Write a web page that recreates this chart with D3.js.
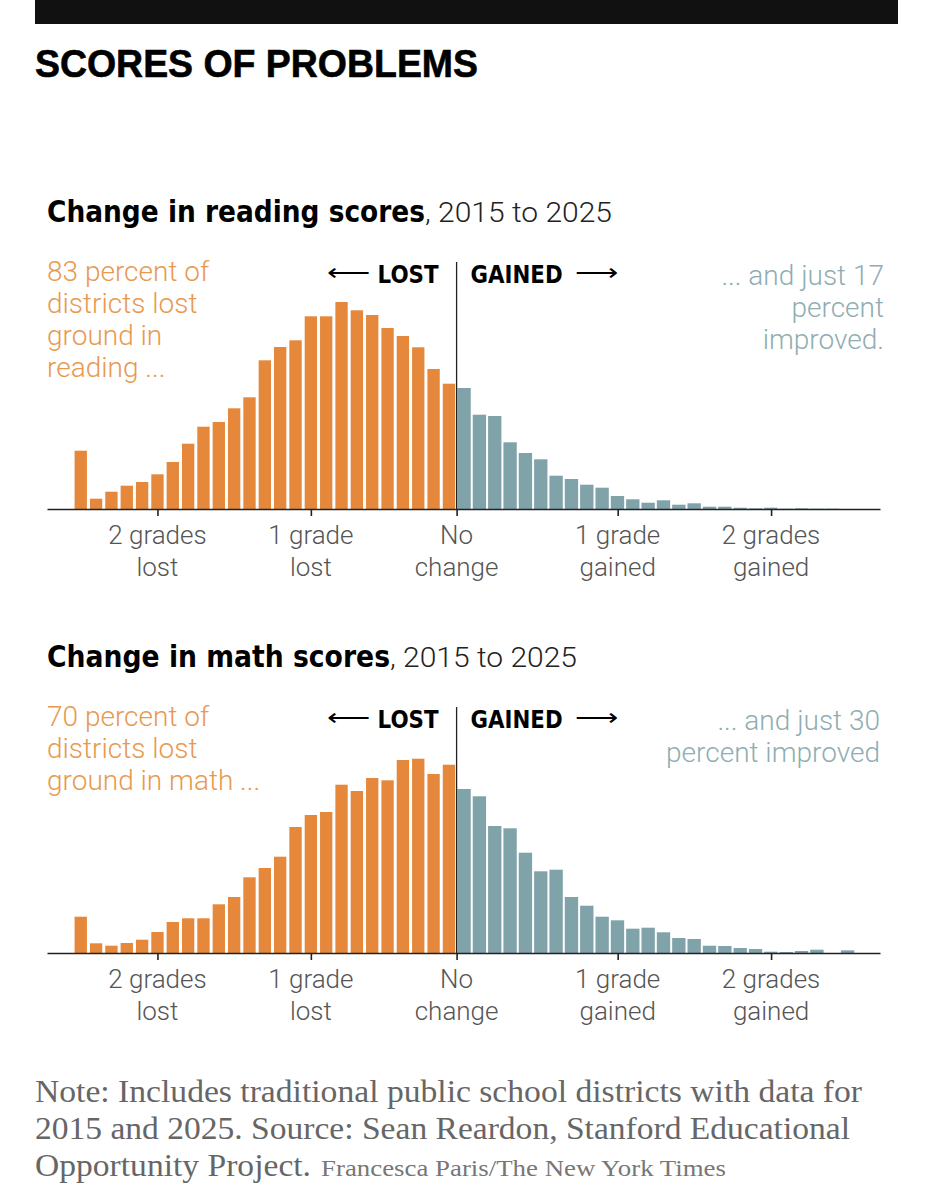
<!DOCTYPE html>
<html><head><meta charset="utf-8">
<script src="https://cdn.jsdelivr.net/npm/d3@7"></script>
<style>
body{margin:0;background:#fff;}
svg{display:block;}
</style></head>
<body>
<script>
// ---- data (heights, arbitrary units) ----
const binWidth = 0.1; // grade units per bin
const readingLost = [58.3,10.3,17.3,23.3,27,34.7,47,65.3,82.3,87,100.7,111.7,148.7,162,168.7,192.7,192.7,207,198.7,194,181,173,161.7,140,125.3];
const readingGained = [121,94.3,93,66.7,56,49.7,33.3,30,24.3,21.3,13,9.7,6.3,8.7,4.3,5.7,2.3,2.3,1.3,0.7,1.3,0.3,0.7,0.3,0.3,0,0];
const mathLost = [36.3,9.7,7.3,10,13.3,21,31,34.7,34.7,48.7,56,75.7,85,96.3,126,138,141,168.3,162,175,172.7,193,194.3,179,188.3];
const mathGained = [164,156.7,127,124.7,100.3,81.7,83.3,56,47.3,36.3,32.7,24.3,25.3,20.7,15,14,7.3,7,5,4,1.3,1,2,3.3,0,2.7,0];
const tickValues = [-1.95, -0.95, 0, 1.05, 2.05];
const tickLabels = [["2 grades","lost"],["1 grade","lost"],["No","change"],["1 grade","gained"],["2 grades","gained"]];

const mainTitle = "SCORES OF PROBLEMS";
const panels = [
  {title:"Change in reading scores", sub:", 2015 to 2025", lost:readingLost, gained:readingGained,
   leftNote:["83 percent of","districts lost","ground in","reading ..."],
   rightNote:["... and just 17","percent","improved."]},
  {title:"Change in math scores", sub:", 2015 to 2025", lost:mathLost, gained:mathGained,
   leftNote:["70 percent of","districts lost","ground in math ..."],
   rightNote:["... and just 30","percent improved"]}
];
const noteLines = ["Note: Includes traditional public school districts with data for",
  "2015 and 2025. Source: Sean Reardon, Stanford Educational",
  "Opportunity Project."];
const credit = "Francesca Paris/The New York Times";

// ---- styles ----
const ORANGE = "#e5883b", TEAL = "#7fa3a9", ORANGE_TXT = "#e8994f", TEAL_TXT = "#8fadb2";
const LIGHT = "Roboto, 'Open Sans', sans-serif";
const BOLDC = "'DejaVu Sans Condensed', 'DejaVu Sans', sans-serif";
const SERIF = "'Liberation Serif', 'Times New Roman', serif";

const W = 933, H = 1200;
const svg = d3.select("body").append("svg").attr("width", W).attr("height", H);

svg.append("rect").attr("x",35).attr("y",0).attr("width",863).attr("height",24).attr("fill","#111");
svg.append("text").attr("x",35).attr("y",77).text(mainTitle)
  .attr("font-family","'Liberation Sans', Arial, sans-serif").attr("font-weight","bold")
  .attr("font-size",38).attr("fill","#000").attr("stroke","#000").attr("stroke-width",0.6)
  .attr("textLength",443).attr("lengthAdjust","spacingAndGlyphs");

const x = d3.scaleLinear().domain([-2.67, 2.76]).range([47, 880]);
const pitch = x(binWidth) - x(0);

const layout = [
  {titleY:222, titleW:378, subW:187, base:509, top:262, noteY:281, rightY:285, rightX:884, labelY:283},
  {titleY:667, titleW:343, subW:187, base:953, top:707, noteY:726, rightY:730, rightX:880, labelY:728}
];

panels.forEach((p, k) => {
  const L = layout[k];
  const g = svg.append("g");
  const y = d3.scaleLinear().domain([0, 207]).range([L.base, L.base - 207]);

  // title
  g.append("text").attr("x",47).attr("y",L.titleY).text(p.title)
    .attr("font-family",BOLDC).attr("font-weight","bold").attr("font-size",30).attr("fill","#000")
    .attr("textLength",L.titleW).attr("lengthAdjust","spacingAndGlyphs");
  g.append("text").attr("x",47+L.titleW).attr("y",L.titleY).text(p.sub)
    .attr("font-family",LIGHT).attr("font-weight",300).attr("font-size",27).attr("fill","#222")
    .attr("textLength",L.subW).attr("lengthAdjust","spacingAndGlyphs");

  // bars
  const lostData = p.lost.map((v,i)=>({x0:-25*binWidth + i*binWidth, v}));
  const gainData = p.gained.map((v,i)=>({x0:i*binWidth, v}));
  g.selectAll(".lost").data(lostData).join("rect")
    .attr("x",d=>x(d.x0)+1.5).attr("width",pitch-3)
    .attr("y",d=>y(d.v)).attr("height",d=>y(0)-y(d.v)).attr("fill",ORANGE);
  g.selectAll(".gain").data(gainData).join("rect")
    .attr("x",d=>x(d.x0)+0.8).attr("width",pitch-2)
    .attr("y",d=>y(d.v)).attr("height",d=>y(0)-y(d.v)).attr("fill",TEAL);

  // zero line
  g.append("line").attr("x1",x(0)).attr("x2",x(0)).attr("y1",L.top).attr("y2",L.base)
    .attr("stroke","#222").attr("stroke-width",1.3);

  // axis
  const axis = d3.axisBottom(x).tickValues(tickValues).tickSize(7).tickSizeOuter(0).tickFormat("");
  const ag = g.append("g").attr("transform",`translate(0,${L.base})`).call(axis);
  ag.select(".domain").attr("stroke","#222").attr("stroke-width",1.6);
  ag.selectAll(".tick line").attr("stroke","#222").attr("stroke-width",1.6);
  tickValues.forEach((tv,i)=>{
    const t = g.append("text").attr("text-anchor","middle").attr("font-family",LIGHT)
      .attr("font-weight",300).attr("font-size",26).attr("fill","#555");
    tickLabels[i].forEach((s,j)=>{
      t.append("tspan").attr("x",x(tv)).attr("y",L.base+35+j*32).text(s);
    });
  });

  // LOST / GAINED
  g.append("text").attr("x",x(0)-18).attr("y",L.labelY).attr("text-anchor","end")
    .attr("font-family",BOLDC).attr("font-weight","bold").attr("font-size",25).attr("fill","#000")
    .text("LOST").attr("textLength",61).attr("lengthAdjust","spacingAndGlyphs");
  g.append("text").attr("x",x(0)-130).attr("y",L.labelY-2).attr("text-anchor","start")
    .attr("font-family",LIGHT).attr("font-size",26).attr("fill","#000").text("⟵")
    .attr("textLength",43).attr("lengthAdjust","spacingAndGlyphs");
  g.append("text").attr("x",x(0)+14).attr("y",L.labelY).attr("text-anchor","start")
    .attr("font-family",BOLDC).attr("font-weight","bold").attr("font-size",25).attr("fill","#000")
    .text("GAINED").attr("textLength",92).attr("lengthAdjust","spacingAndGlyphs");
  g.append("text").attr("x",x(0)+118).attr("y",L.labelY-2).attr("text-anchor","start")
    .attr("font-family",LIGHT).attr("font-size",26).attr("fill","#000").text("⟶")
    .attr("textLength",43).attr("lengthAdjust","spacingAndGlyphs");

  // annotations
  p.leftNote.forEach((s,j)=>{
    g.append("text").attr("x",47).attr("y",L.noteY+j*32).text(s)
      .attr("font-family",LIGHT).attr("font-weight",300).attr("font-size",28).attr("fill",ORANGE_TXT);
  });
  p.rightNote.forEach((s,j)=>{
    g.append("text").attr("x",L.rightX).attr("y",L.rightY+j*32).attr("text-anchor","end").text(s)
      .attr("font-family",LIGHT).attr("font-weight",300).attr("font-size",28).attr("fill",TEAL_TXT);
  });
});

// footnote
const noteW = [827, 815, 276];
noteLines.forEach((s,j)=>{
  svg.append("text").attr("x",35).attr("y",1102+j*37).text(s)
    .attr("font-family",SERIF).attr("font-size",32).attr("fill","#666")
    .attr("textLength",noteW[j]).attr("lengthAdjust","spacingAndGlyphs");
});
svg.append("text").attr("x",321).attr("y",1176).text(credit)
  .attr("font-family",SERIF).attr("font-size",23).attr("fill","#777")
  .attr("textLength",405).attr("lengthAdjust","spacingAndGlyphs");
</script>
</body></html>
